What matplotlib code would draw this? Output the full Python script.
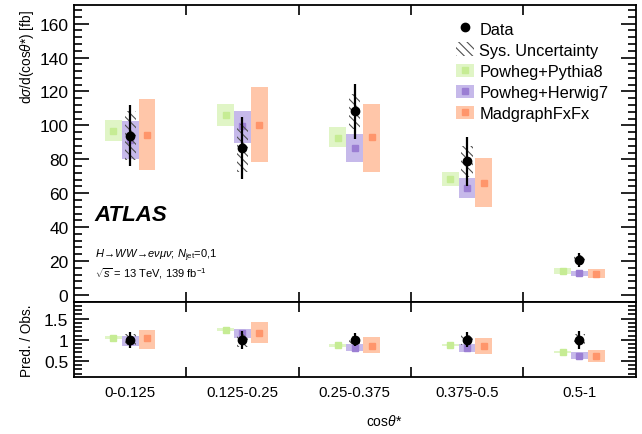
import matplotlib
matplotlib.use("Agg")
import matplotlib.pyplot as plt
from matplotlib.patches import Rectangle, Patch
from matplotlib.lines import Line2D
from matplotlib.ticker import MultipleLocator

plt.rcParams['font.family'] = ['Liberation Sans', 'DejaVu Sans']
plt.rcParams['mathtext.fontset'] = 'custom'
plt.rcParams['mathtext.rm'] = 'Liberation Sans'
plt.rcParams['mathtext.it'] = 'Liberation Sans:italic'
plt.rcParams['mathtext.bf'] = 'Liberation Sans:bold'
plt.rcParams['hatch.linewidth'] = 0.8

# bins of cos(theta*)
bins = ['0-0.125', '0.125-0.25', '0.25-0.375', '0.375-0.5', '0.5-1']

# data [fb]
data = [94.0, 86.6, 108.2, 78.7, 20.7]
data_err = [18.1, 18.4, 16.2, 14.2, 4.3]
data_sys = [14.2, 14.2, 10.4, 9.4, 3.0]

# predictions [fb]: centre, low edge, high edge
py8 = [96.8, 106.3, 92.8, 68.3, 14.2]
py8_lo = [90.9, 99.4, 87.2, 64.2, 12.4]
py8_hi = [103.3, 112.7, 99.1, 72.6, 15.9]
hw7 = [91.5, 99.4, 86.9, 62.8, 12.8]
hw7_lo = [80.3, 89.7, 78.3, 57.1, 11.2]
hw7_hi = [102.7, 108.6, 95.1, 68.9, 14.3]
mg = [94.5, 100.4, 92.9, 66.3, 12.6]
mg_lo = [73.6, 78.3, 72.4, 51.6, 9.8]
mg_hi = [115.3, 122.4, 112.9, 80.7, 15.3]

# ratio Pred./Obs.
r_data = [1.0, 1.0, 1.0, 1.0, 1.0]
r_data_err = [0.19, 0.21, 0.15, 0.18, 0.21]
r_data_sys = [0.13, 0.16, 0.10, 0.12, 0.14]
r_py8 = [1.05, 1.24, 0.87, 0.88, 0.71]
r_py8_lo = [1.02, 1.20, 0.84, 0.85, 0.68]
r_py8_hi = [1.08, 1.28, 0.90, 0.91, 0.74]
r_hw7 = [0.97, 1.16, 0.81, 0.80, 0.62]
r_hw7_lo = [0.86, 1.05, 0.73, 0.72, 0.55]
r_hw7_hi = [1.10, 1.26, 0.89, 0.89, 0.70]
r_mg = [1.04, 1.17, 0.86, 0.85, 0.62]
r_mg_lo = [0.79, 0.92, 0.68, 0.67, 0.48]
r_mg_hi = [1.24, 1.42, 1.06, 1.04, 0.76]

# colours (light box, dark marker)
c_py8 = ('#e0f5c6', '#c6ec94')
c_hw7 = ('#c6b9ea', '#9b7ed3')
c_mg = ('#ffc6a9', '#ff956b')

W, H = 642, 435
fig = plt.figure(figsize=(W / 100, H / 100), dpi=100)
ax = fig.add_axes([74 / W, 1 - 302.7 / H, 561.5 / W, 296.7 / H])
rax = fig.add_axes([74 / W, 1 - 378 / H, 561.5 / W, 75.3 / H])

bw = 0.15  # box width
sw = 0.10  # hatch width
offs = [-0.15, 0.0, 0.15]


def draw(a, d, derr, dsys, models):
    for i in range(len(bins)):
        xc = i + 0.5
        for off, (cen, lo, hi), col in zip(offs, models, [c_py8, c_hw7, c_mg]):
            a.add_patch(Rectangle((xc + off - bw / 2, lo[i]), bw, hi[i] - lo[i],
                                  facecolor=col[0], edgecolor='none', zorder=2))
            a.plot(xc + off, cen[i], marker='s', ms=5, color=col[1], ls='none', zorder=3)
        a.add_patch(Rectangle((xc - sw / 2, d[i] - dsys[i]), sw, 2 * dsys[i],
                              facecolor='none', edgecolor='#505050', hatch='\\\\\\\\',
                              lw=0, zorder=4))
        a.errorbar(xc, d[i], yerr=derr[i], fmt='o', color='black', ms=6,
                   elinewidth=1.6, capsize=0, zorder=5)


draw(ax, data, data_err, data_sys,
     [(py8, py8_lo, py8_hi), (hw7, hw7_lo, hw7_hi), (mg, mg_lo, mg_hi)])
draw(rax, r_data, r_data_err, r_data_sys,
     [(r_py8, r_py8_lo, r_py8_hi), (r_hw7, r_hw7_lo, r_hw7_hi), (r_mg, r_mg_lo, r_mg_hi)])

for a in (ax, rax):
    a.set_xlim(0, len(bins))
    a.set_xticks(range(1, len(bins)))
    a.set_xticklabels([])
    for s in a.spines.values():
        s.set_linewidth(1.3)
    a.tick_params(axis='both', which='both', direction='in', top=True, right=True, width=1.2)
    a.tick_params(axis='y', which='major', length=11, labelsize=12.5, pad=4)
    a.tick_params(axis='y', which='minor', length=6)
    a.tick_params(axis='x', which='major', length=7)

ax.set_ylim(-4, 171)
ax.yaxis.set_major_locator(MultipleLocator(20))
ax.yaxis.set_minor_locator(MultipleLocator(4))

rax.set_ylim(0.12, 1.9)
rax.set_yticks([0.5, 1, 1.5])
rax.set_yticklabels(['0.5', '1', '1.5'])
rax.yaxis.set_minor_locator(MultipleLocator(0.1))
rax.set_xticks([i + 0.5 for i in range(len(bins))], bins, minor=True)
rax.tick_params(axis='x', which='minor', length=0, labelsize=10.8, pad=6)

fig.text(27 / W, 1 - 10 / H, r'd$\sigma$/d(cos$\theta$*) [fb]', rotation=90,
         ha='center', va='top', fontsize=9.8)
fig.text(27 / W, 1 - 341 / H, 'Pred. / Obs.', rotation=90, ha='center', va='center',
         fontsize=9.8)
fig.text(384 / W, 1 - 422 / H, r'cos$\theta$*', ha='center', va='center', fontsize=10)

ax.text(0.037, 0.275, 'ATLAS', transform=ax.transAxes, fontsize=16,
        fontweight='bold', fontstyle='italic')
ax.text(0.037, 0.15, r'$H\!\rightarrow\!WW\!\rightarrow\!e\nu\mu\nu$; $N_{\rm jet}$=0,1',
        transform=ax.transAxes, fontsize=8)
ax.text(0.037, 0.085, r'$\sqrt{s}$ = 13 TeV, 139 fb$^{-1}$', transform=ax.transAxes,
        fontsize=8)

handles = [
    Line2D([], [], marker='o', color='black', ls='none', ms=6),
    Patch(facecolor='none', edgecolor='#505050', hatch='\\\\\\\\', lw=0),
    (Patch(facecolor=c_py8[0], edgecolor='none'),
     Line2D([], [], marker='s', color=c_py8[1], ls='none', ms=5)),
    (Patch(facecolor=c_hw7[0], edgecolor='none'),
     Line2D([], [], marker='s', color=c_hw7[1], ls='none', ms=5)),
    (Patch(facecolor=c_mg[0], edgecolor='none'),
     Line2D([], [], marker='s', color=c_mg[1], ls='none', ms=5)),
]
labels = ['Data', 'Sys. Uncertainty', 'Powheg+Pythia8', 'Powheg+Herwig7', 'MadgraphFxFx']
ax.legend(handles, labels, loc='upper left', bbox_to_anchor=(0.652, 1.0), frameon=False,
          fontsize=11.8, handlelength=1.05, handleheight=0.85, handletextpad=0.35,
          labelspacing=0.36, borderpad=0.5)

fig.savefig('out.png', dpi=100)
